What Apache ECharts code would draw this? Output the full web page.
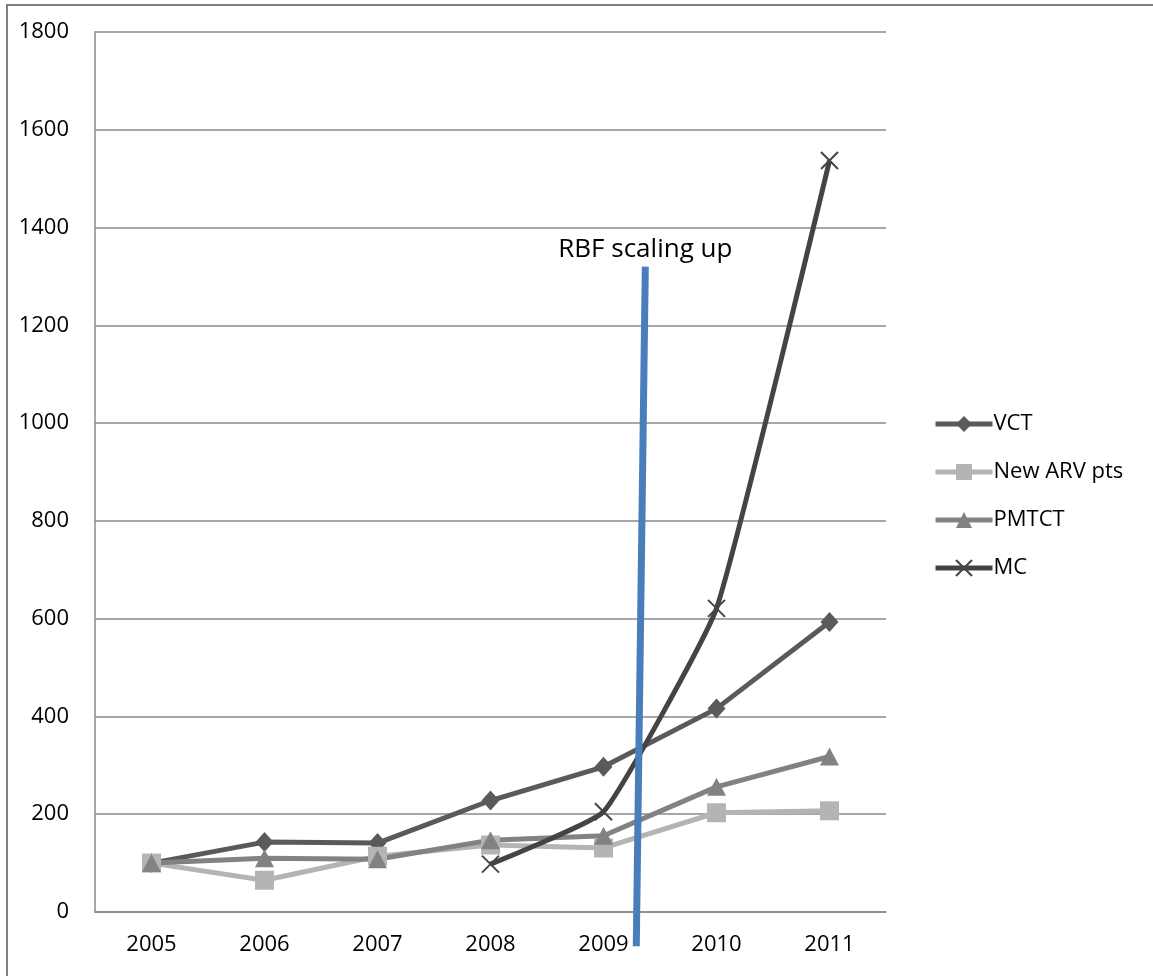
<!DOCTYPE html>
<html>
<head>
<meta charset="utf-8">
<script src="https://cdn.jsdelivr.net/npm/echarts@6/dist/echarts.min.js"></script>
<style>
  html, body { margin: 0; padding: 0; background: #ffffff; }
  #chart { width: 1153px; height: 976px; }
</style>
</head>
<body>
<div id="chart"></div>
<script>
// Years on the category axis
const years = ['2005', '2006', '2007', '2008', '2009', '2010', '2011'];

// Indexed service volumes (2005 = 100; MC starts in 2008)
const vct      = [100, 143, 141, 228, 297, 416, 593];
const newArv   = [100, 65, 114, 137, 131, 203, 207];
const pmtct    = [100, 110, 108, 147, 156, 256, 318];
const mc       = [null, null, null, 98, 205, 621, 1537];

// Y axis ticks
const yMin = 0, yMax = 1800, yStep = 200;

// Marker of the start of RBF scale-up: [year position, value]
const rbfLine = [[2009.29, -70], [2009.37, 1320]];
const rbfText = 'RBF scaling up';

const FONT = 'Open Sans';
const crossPath = 'path://M0,0L10,10M10,0L0,10';

const chart = echarts.init(document.getElementById('chart'), null, { renderer: 'canvas' });

const lineSeries = (name, data, color, symbol, symbolSize, extra) => Object.assign({
  name: name,
  type: 'line',
  data: data,
  xAxisIndex: 0,
  yAxisIndex: 0,
  symbol: symbol,
  symbolSize: symbolSize,
  showAllSymbol: true,
  lineStyle: { color: color, width: 5 },
  itemStyle: { color: color, borderColor: color, borderWidth: 0, opacity: 1 },
  emphasis: { disabled: true },
  animation: false,
  z: 3
}, extra || {});

chart.setOption({
  backgroundColor: '#ffffff',
  animation: false,
  textStyle: { fontFamily: FONT },
  grid: { left: 95, right: 267, top: 32, bottom: 64, containLabel: false },
  legend: {
    orient: 'vertical',
    left: 933,
    top: 413,
    padding: 0,
    itemWidth: 57,
    itemHeight: 20,
    itemGap: 26,
    data: ['VCT', 'New ARV pts', 'PMTCT', 'MC'],
    lineStyle: { width: 5 },
    textStyle: { fontFamily: FONT, fontSize: 22, color: '#000000', lineHeight: 20, padding: [0, 0, 0, -4] },
    selectedMode: false
  },
  xAxis: [
    {
      type: 'category',
      data: years,
      boundaryGap: true,
      axisLine: { show: true, lineStyle: { color: '#8a8a8a', width: 1.5 } },
      axisTick: { show: false },
      axisLabel: { fontFamily: FONT, fontSize: 22, color: '#000000', margin: 22 },
      splitLine: { show: false }
    },
    {
      // continuous overlay used to place the RBF marker between years
      type: 'value',
      min: 2004.5,
      max: 2011.5,
      show: false
    }
  ],
  yAxis: {
    type: 'value',
    min: yMin,
    max: yMax,
    interval: yStep,
    axisLine: { show: true, lineStyle: { color: '#8a8a8a', width: 1.5 } },
    axisTick: { show: false },
    axisLabel: { fontFamily: FONT, fontSize: 22, color: '#000000', margin: 26,
      formatter: (v) => String(v) },
    splitLine: { show: true, lineStyle: { color: '#8a8a8a', width: 1.5 } }
  },
  graphic: [
    {
      type: 'rect',
      shape: { x: 7, y: 5, width: 1300, height: 1100 },
      style: { fill: 'none', stroke: '#7f7f7f', lineWidth: 2 },
      silent: true,
      z: 0
    }
  ],
  series: [
    lineSeries('VCT', vct, '#5a5a5a', 'diamond', [18, 20]),
    lineSeries('New ARV pts', newArv, '#b4b4b4', 'rect', 19),
    lineSeries('PMTCT', pmtct, '#828282', 'triangle', [19, 18]),
    lineSeries('MC', mc, '#444444', crossPath, 17, {
      smooth: 0.12,
      connectNulls: false,
      itemStyle: { color: 'none', borderColor: '#444444', borderWidth: 2, opacity: 1 }
    }),
    {
      name: 'RBF',
      type: 'line',
      xAxisIndex: 1,
      yAxisIndex: 0,
      clip: false,
      data: rbfLine,
      symbol: 'none',
      lineStyle: { color: '#4a7ebb', width: 7, cap: 'butt' },
      emphasis: { disabled: true },
      animation: false,
      z: 5
    },
    {
      // caption above the top end of the RBF marker
      name: 'RBF label',
      type: 'scatter',
      xAxisIndex: 1,
      yAxisIndex: 0,
      clip: false,
      data: [rbfLine[rbfLine.length - 1]],
      symbolSize: 1,
      itemStyle: { color: 'rgba(0,0,0,0)' },
      label: { show: true, position: 'top', distance: 4, formatter: rbfText,
        fontFamily: FONT, fontSize: 26, color: '#000000', textBorderWidth: 0, opacity: 1 },
      emphasis: { disabled: true },
      animation: false,
      z: 6
    }
  ]
});
</script>
</body>
</html>
